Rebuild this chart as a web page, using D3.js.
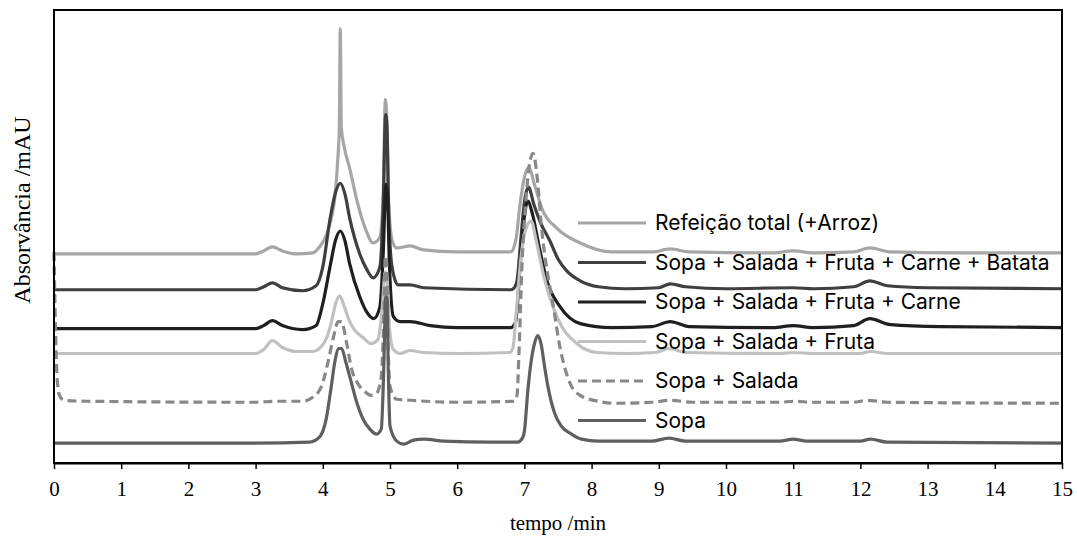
<!DOCTYPE html>
<html>
<head>
<meta charset="utf-8">
<script src="https://cdn.jsdelivr.net/npm/d3@7"></script>
<style>
  body { margin: 0; background: #fff; }
  .tick text { font-family: "Liberation Serif", "Times New Roman", serif; font-size: 21px; }
</style>
</head>
<body>
<svg id="chart" width="1077" height="539"></svg>
<script>
// tempo (min), absorvância (mAU, arbitrary offsets)
const refeicaoTotal = [[0,208],[1.5,208],[3.0,208],[3.12,211],[3.25,215],[3.4,211],[3.6,208],[3.85,209],[3.95,215],[4.06,228],[4.13,245],[4.18,265],[4.22,300],[4.245,333],[4.26,434],[4.275,335],[4.32,315],[4.4,294],[4.51,261],[4.63,234],[4.75,219],[4.85,225],[4.9,270],[4.93,363],[4.955,340],[4.98,260],[5.03,222],[5.1,214],[5.3,216],[5.5,212],[6.0,210],[6.8,210],[6.88,225],[6.93,255],[7.0,285],[7.07,295],[7.14,280],[7.27,252],[7.48,234],[7.83,219],[8.3,210],[8.9,210],[9.17,213],[9.45,210],[10.7,209],[11.0,211],[11.3,209],[11.9,210],[12.14,214],[12.45,210],[13.5,209],[15,209]];

const ssfcBatata = [[0,172],[3.0,172],[3.12,175],[3.25,179],[3.4,174],[3.7,171],[3.9,176],[4.0,195],[4.11,244],[4.19,270],[4.26,279],[4.33,268],[4.4,244],[4.55,208],[4.65,193],[4.75,184],[4.85,195],[4.9,260],[4.935,348],[4.955,335],[4.98,250],[5.03,195],[5.12,177],[5.3,177],[5.5,174],[6.8,172],[6.85,174],[6.89,181],[6.95,225],[7.0,260],[7.06,275],[7.14,258],[7.25,238],[7.38,221],[7.5,203],[7.63,191],[7.83,181],[8.1,175],[8.5,173],[9.0,174],[9.17,178],[9.4,175],[10.0,173],[11.0,174],[11.3,173],[11.9,175],[12.14,181],[12.4,176],[13,174],[15,173]];

const ssfCarne = [[0,133],[3.0,133],[3.12,136],[3.25,141],[3.4,136],[3.7,132],[3.9,136],[4.0,158],[4.11,196],[4.19,222],[4.26,231],[4.33,221],[4.4,198],[4.55,165],[4.65,150],[4.76,143],[4.85,155],[4.9,210],[4.94,278],[4.96,270],[4.99,200],[5.05,145],[5.15,140],[5.3,140],[5.6,136],[6.0,134],[6.8,134],[6.87,140],[6.93,190],[6.99,240],[7.05,261],[7.12,248],[7.22,215],[7.34,180],[7.53,155],[7.83,138],[8.3,134],[8.9,135],[9.17,140],[9.45,135],[10.7,134],[11.0,136],[11.3,134],[11.9,136],[12.14,143],[12.45,137],[13.2,135],[15,134]];

const ssFruta = [[0,108],[3.0,108],[3.12,112],[3.25,121],[3.4,114],[3.6,110],[3.85,110],[3.95,113],[4.06,124],[4.13,140],[4.19,158],[4.25,166],[4.32,155],[4.4,140],[4.48,131],[4.6,124],[4.72,118],[4.82,122],[4.88,150],[4.93,190],[4.96,180],[4.99,135],[5.05,112],[5.15,108],[5.3,111],[5.5,109],[6.0,108],[6.78,109],[6.83,114],[6.88,150],[6.95,205],[7.03,235],[7.1,241],[7.18,220],[7.28,188],[7.49,144],[7.78,118],[8.08,109],[8.5,108],[8.95,109],[9.15,113],[9.4,109],[10.8,108],[11.0,109],[11.3,108],[12.0,108],[12.15,110],[12.4,108],[15,108]];

const sopaSalada = [[0,210],[0.02,140],[0.045,85],[0.08,66],[0.15,61],[0.5,60],[3.0,59],[3.3,60],[3.7,60],[3.85,64],[3.98,75],[4.08,100],[4.16,125],[4.23,140],[4.28,140],[4.35,120],[4.43,92],[4.52,78],[4.62,70],[4.72,66],[4.8,68],[4.87,85],[4.91,150],[4.93,206],[4.95,200],[4.97,120],[5.0,75],[5.1,62],[5.3,61],[6.0,59],[6.85,60],[6.89,66],[6.92,110],[6.96,190],[7.02,260],[7.08,300],[7.13,309],[7.19,285],[7.26,231],[7.34,190],[7.41,164],[7.53,114],[7.68,78],[7.83,66],[8.1,60],[8.3,58],[8.9,59],[9.17,61],[9.5,59],[10.8,59],[11.0,60],[11.3,59],[11.9,59],[12.1,61],[12.4,59],[15,58]];

const sopa = [[0,18],[3.0,18],[3.8,19],[3.95,24],[4.05,42],[4.12,72],[4.18,100],[4.24,113],[4.28,113],[4.34,100],[4.42,80],[4.5,60],[4.6,42],[4.7,32],[4.8,27],[4.87,32],[4.91,100],[4.935,165],[4.955,165],[4.975,90],[5.0,35],[5.1,20],[5.2,17],[5.35,21],[5.5,22],[5.8,20],[6.5,19],[6.9,19],[6.97,23],[7.0,30],[7.05,70],[7.1,100],[7.15,118],[7.2,126],[7.25,117],[7.3,95],[7.35,75],[7.45,48],[7.55,35],[7.7,27],[7.85,22],[8.1,20],[8.9,20],[9.15,23],[9.4,20],[10.8,20],[11.0,22],[11.2,20],[12.0,20],[12.15,22],[12.4,19],[15,18]];

const seriesNames = ["Refeição total (+Arroz)", "Sopa + Salada + Fruta + Carne + Batata", "Sopa + Salada + Fruta + Carne", "Sopa + Salada + Fruta", "Sopa + Salada", "Sopa"];
const seriesData = [refeicaoTotal, ssfcBatata, ssfCarne, ssFruta, sopaSalada, sopa];
const seriesColors = ["#a6a6a6", "#3f3f3f", "#1f1f1f", "#c0c0c0", "#888888", "#5f5f5f"];
const seriesDash = [null, null, null, null, "9,5", null];
const xTicks = d3.range(0, 16);

var svg = d3.select("#chart");
var mLeft = 54, mRight = 1062, mTop = 10, mBottom = 463;

var x = d3.scaleLinear().domain([0, 15]).range([mLeft, mRight]);
var y = d3.scaleLinear().domain([-2, 453]).range([mBottom, mTop]);

svg.append("rect").attr("width", 1077).attr("height", 539).attr("fill", "#fff");

var line = d3.line()
  .x(d => x(d[0]))
  .y(d => y(d[1]))
  .curve(d3.curveMonotoneX);

var plot = svg.append("g");
seriesData.forEach((s, i) => {
  plot.append("path")
    .datum(s)
    .attr("d", line)
    .attr("fill", "none")
    .attr("stroke", seriesColors[i])
    .attr("stroke-width", 3.2)
    .attr("stroke-linejoin", "round")
    .attr("stroke-dasharray", seriesDash[i]);
});

// frame
svg.append("rect")
  .attr("x", mLeft).attr("y", mTop)
  .attr("width", mRight - mLeft).attr("height", mBottom - mTop)
  .attr("fill", "none").attr("stroke", "#000").attr("stroke-width", 2);

var xAxis = svg.append("g")
  .attr("transform", "translate(0," + mBottom + ")")
  .call(d3.axisBottom(x).tickValues(xTicks).tickSize(6).tickSizeOuter(0).tickPadding(12).tickFormat(d3.format("d")));
xAxis.select(".domain").attr("stroke-width", 2);
xAxis.selectAll(".tick line").attr("stroke-width", 1.5);

svg.append("text")
  .attr("x", (mLeft + mRight) / 2).attr("y", 530)
  .attr("text-anchor", "middle")
  .style("font-family", "'Liberation Serif', 'Times New Roman', serif")
  .style("font-size", "21px")
  .text("tempo /min");

svg.append("text")
  .attr("transform", "translate(30,210) rotate(-90)")
  .attr("text-anchor", "middle")
  .style("font-family", "'Liberation Serif', 'Times New Roman', serif")
  .style("font-size", "24px")
  .text("Absorvância /mAU");

// legend
var legend = svg.append("g").attr("transform", "translate(578,223)");
seriesNames.forEach((n, i) => {
  var row = legend.append("g").attr("transform", "translate(0," + i * 39.5 + ")");
  row.append("line")
    .attr("x1", 0).attr("x2", 68)
    .attr("stroke", seriesColors[i]).attr("stroke-width", 3.2)
    .attr("stroke-dasharray", seriesDash[i]);
  row.append("text")
    .attr("x", 77).attr("dy", "0.35em")
    .style("font-family", "Inter, 'Open Sans', sans-serif")
    .style("font-size", "21px")
    .text(n);
});
</script>
</body>
</html>
